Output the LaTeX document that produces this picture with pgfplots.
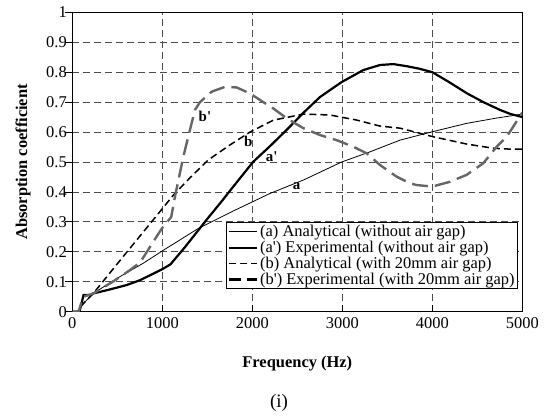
\documentclass[border=0pt]{standalone}
\usepackage{fontspec}
\setmainfont{Liberation Serif}
\usepackage{pgfplots}
\pgfplotsset{compat=1.18}
\newcommand{\q}{\textquotesingle}
\begin{document}
\begin{tikzpicture}
\path[use as bounding box] (-72.3bp,-108.3bp) rectangle (475.7bp,311.7bp);
\begin{axis}[
  at={(0,0)}, anchor=south west,
  scale only axis, width=450bp, height=299.4bp,
  xmin=0, xmax=5000, ymin=0, ymax=1,
  xtick={0,1000,2000,3000,4000,5000},
  ytick={0,0.1,0.2,0.3,0.4,0.5,0.6,0.7,0.8,0.9,1},
  scaled x ticks=false,
  /pgf/number format/1000 sep={},
  /pgf/number format/assume math mode=true,
  ticklabel style={font=\fontsize{16.5}{19.8}\selectfont},
  yticklabel style={xshift=-2bp},
  xticklabel style={yshift=-2bp},
  tick align=inside, major tick length=7bp,
  xtick pos=bottom, ytick pos=left,
  y tick style={xshift=-7bp, line width=0.8bp, black},
  x tick style={line width=0.8bp, black},
  grid=major,
  major grid style={dash pattern=on 7bp off 4bp, color=black!70, line width=0.8bp},
  axis line style={line width=1.2bp},
  xlabel={\textbf{Frequency (Hz)}},
  ylabel={\textbf{Absorption coefficient}},
  label style={font=\fontsize{16.5}{19.8}\selectfont},
  x label style={at={(axis description cs:0.5,-0.1723)}, anchor=center},
  y label style={at={(axis description cs:-0.1096,0.5)}, anchor=center, rotate=0},
  legend style={at={(axis cs:4954,0.30)}, anchor=north east, draw=black, line width=1bp,
    font=\fontsize{16.5}{19.8}\selectfont, inner sep=1bp, row sep=-1bp,
    cells={anchor=west}, fill=white},
  legend image code/.code={\draw[#1] (0bp,0bp) -- (28bp,0bp);},
]
\addplot[black, line width=0.8bp] coordinates {
(0,0)(60,0)(100,0.02)(233,0.061)(500,0.112)(789,0.162)(1000,0.203)(1400,0.278)(1800,0.338)(2197,0.395)(2570,0.44)(2993,0.50)(3308,0.534)(3641,0.573)(4000,0.601)(4381,0.629)(4700,0.646)(5000,0.66)};
\addlegendentry{(a) Analytical (without air gap)}
\addplot[black, line width=2.2bp] coordinates {
(0,0)(80,0)(105,0.03)(125,0.056)(200,0.056)(233,0.061)(400,0.073)(604,0.089)(750,0.105)(900,0.127)(1000,0.142)(1090,0.158)(1250,0.215)(1400,0.272)(1500,0.31)(1650,0.365)(1789,0.418)(2011,0.501)(2197,0.553)(2381,0.607)(2570,0.665)(2752,0.717)(2993,0.767)(3233,0.807)(3419,0.824)(3567,0.827)(3716,0.82)(3850,0.812)(4000,0.80)(4197,0.765)(4381,0.73)(4567,0.70)(4752,0.674)(4863,0.661)(5000,0.65)};
\addlegendentry{(a\q) Experimental (without air gap)}
\addplot[black, line width=1.5bp, dash pattern=on 7bp off 4bp] coordinates {
(0,0)(60,0)(100,0.02)(233,0.061)(500,0.16)(750,0.252)(1000,0.344)(1125,0.39)(1300,0.445)(1511,0.507)(1752,0.557)(1974,0.60)(2236,0.64)(2570,0.66)(2863,0.657)(3160,0.64)(3419,0.62)(3641,0.613)(4000,0.585)(4381,0.56)(4678,0.546)(4863,0.543)(5000,0.543)};
\addlegendentry{(b) Analytical (with 20mm air gap)}
\addplot[black!60, line width=2.4bp, dash pattern=on 16bp off 7bp, forget plot] coordinates {
(0,0)(70,0)(100,0.03)(125,0.05)(233,0.061)(450,0.10)(641,0.139)(755,0.165)(909,0.238)(1000,0.28)(1099,0.316)(1141,0.385)(1234,0.518)(1289,0.585)(1363,0.674)(1419,0.70)(1549,0.735)(1697,0.751)(1826,0.749)(1974,0.729)(2122,0.70)(2233,0.679)(2382,0.646)(2567,0.613)(2752,0.59)(2937,0.573)(3122,0.551)(3271,0.529)(3419,0.49)(3604,0.451)(3752,0.429)(3826,0.423)(4000,0.418)(4197,0.434)(4381,0.457)(4567,0.496)(4715,0.551)(4826,0.584)(5000,0.665)};
\addlegendimage{black, line width=2.6bp, dash pattern=on 12bp off 6bp}
\addlegendentry{(b\q) Experimental (with 20mm air gap)}
\node[font=\bfseries\fontsize{15}{18}\selectfont] at (axis cs:1474,0.651) {b\q};
\node[font=\bfseries\fontsize{15}{18}\selectfont] at (axis cs:1956,0.568) {b};
\node[font=\bfseries\fontsize{15}{18}\selectfont] at (axis cs:2215,0.518) {a\q};
\node[font=\bfseries\fontsize{15}{18}\selectfont] at (axis cs:2493,0.421) {a};
\end{axis}
\node[font=\fontsize{19}{22}\selectfont] at (206.7bp,-91.3bp) {(i)};
\end{tikzpicture}
\end{document}
